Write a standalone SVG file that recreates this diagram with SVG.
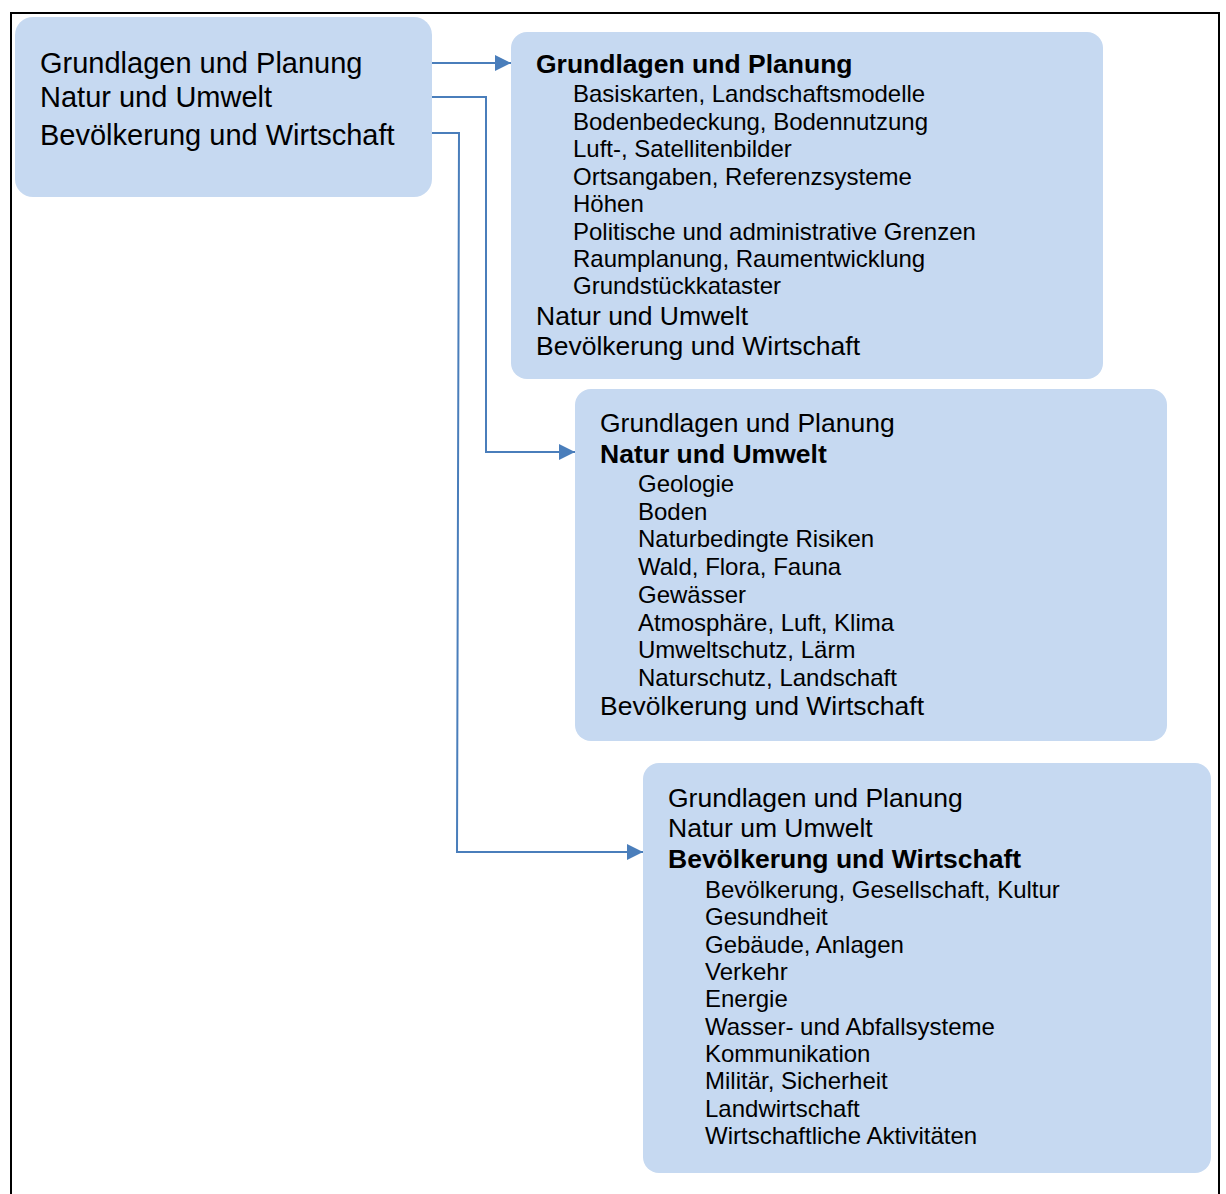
<svg xmlns="http://www.w3.org/2000/svg" width="1226" height="1194" viewBox="0 0 1226 1194">
<style>
.box{fill:#c6d9f1;}
text{font-family:"Liberation Sans",Arial,sans-serif;fill:#000;}
.h{font-size:26.5px;}
.b{font-size:26.5px;font-weight:bold;}
.i{font-size:24px;}
.big{font-size:29px;}
.con{fill:none;stroke:#4a7ebb;stroke-width:2;}
</style>
<defs>
<marker id="arr" markerWidth="16" markerHeight="16" refX="16" refY="8" orient="auto" markerUnits="userSpaceOnUse">
<path d="M0,0 L16,8 L0,16 Z" fill="#4a7ebb"/>
</marker>
</defs>
<rect width="1226" height="1194" fill="#fff"/>
<rect x="11" y="13" width="1208" height="1200" fill="none" stroke="#000" stroke-width="2"/>
<g id="connectors">
<path class="con" d="M432,63 H511" marker-end="url(#arr)"/>
<path class="con" d="M432,97 H486 V452 H575" marker-end="url(#arr)"/>
<path class="con" d="M432,133 H459 L457,852 H643" marker-end="url(#arr)"/>
</g>
<g id="node-main">
<rect class="box" x="15" y="17" width="417" height="180" rx="18"/>
<text class="big" x="40" y="73">Grundlagen und Planung</text>
<text class="big" x="40" y="107">Natur und Umwelt</text>
<text class="big" x="40" y="145">Bevölkerung und Wirtschaft</text>
</g>
<g id="node-grundlagen">
<rect class="box" x="511" y="32" width="592" height="347" rx="16"/>
<text class="b" x="536" y="73">Grundlagen und Planung</text>
<text class="i" x="573" y="102">Basiskarten, Landschaftsmodelle</text>
<text class="i" x="573" y="129.5">Bodenbedeckung, Bodennutzung</text>
<text class="i" x="573" y="157">Luft-, Satellitenbilder</text>
<text class="i" x="573" y="184.5">Ortsangaben, Referenzsysteme</text>
<text class="i" x="573" y="212">Höhen</text>
<text class="i" x="573" y="239.5">Politische und administrative Grenzen</text>
<text class="i" x="573" y="267">Raumplanung, Raumentwicklung</text>
<text class="i" x="573" y="294">Grundstückkataster</text>
<text class="h" x="536" y="325">Natur und Umwelt</text>
<text class="h" x="536" y="355">Bevölkerung und Wirtschaft</text>
</g>
<g id="node-natur">
<rect class="box" x="575" y="389" width="592" height="352" rx="16"/>
<text class="h" x="600" y="432">Grundlagen und Planung</text>
<text class="b" x="600" y="463">Natur und Umwelt</text>
<text class="i" x="638" y="492">Geologie</text>
<text class="i" x="638" y="519.7">Boden</text>
<text class="i" x="638" y="547.4">Naturbedingte Risiken</text>
<text class="i" x="638" y="575.1">Wald, Flora, Fauna</text>
<text class="i" x="638" y="602.8">Gewässer</text>
<text class="i" x="638" y="630.5">Atmosphäre, Luft, Klima</text>
<text class="i" x="638" y="658.2">Umweltschutz, Lärm</text>
<text class="i" x="638" y="686">Naturschutz, Landschaft</text>
<text class="h" x="600" y="715">Bevölkerung und Wirtschaft</text>
</g>
<g id="node-bevoelkerung">
<rect class="box" x="643" y="763" width="568" height="410" rx="16"/>
<text class="h" x="668" y="807">Grundlagen und Planung</text>
<text class="h" x="668" y="837">Natur um Umwelt</text>
<text class="b" x="668" y="868">Bevölkerung und Wirtschaft</text>
<text class="i" x="705" y="898">Bevölkerung, Gesellschaft, Kultur</text>
<text class="i" x="705" y="925.3">Gesundheit</text>
<text class="i" x="705" y="952.7">Gebäude, Anlagen</text>
<text class="i" x="705" y="980">Verkehr</text>
<text class="i" x="705" y="1007.3">Energie</text>
<text class="i" x="705" y="1034.7">Wasser- und Abfallsysteme</text>
<text class="i" x="705" y="1062">Kommunikation</text>
<text class="i" x="705" y="1089.3">Militär, Sicherheit</text>
<text class="i" x="705" y="1116.7">Landwirtschaft</text>
<text class="i" x="705" y="1144">Wirtschaftliche Aktivitäten</text>
</g>
</svg>
